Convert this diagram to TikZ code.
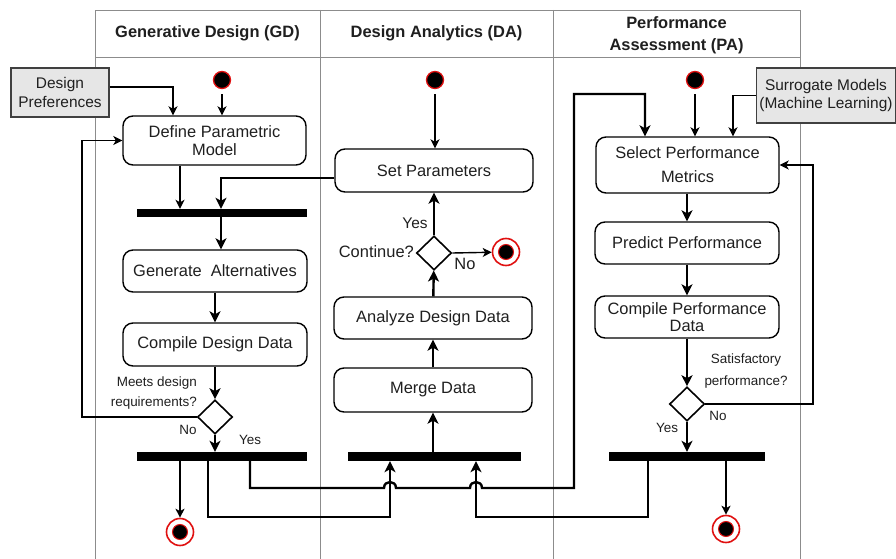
\documentclass[tikz,border=0pt]{standalone}
\usepackage{fontspec}
\setmainfont{Liberation Sans}
\usetikzlibrary{shapes.geometric,arrows.meta}
\definecolor{lanegray}{HTML}{8C8C8C}
\definecolor{notegray}{HTML}{E6E6E6}
\definecolor{startred}{HTML}{E01010}
\begin{document}
\begin{tikzpicture}[x=1bp,y=-1bp,
  every node/.style={font=\fontsize{16.5}{18}\selectfont, text=black!88},
  act/.style={draw=black, line width=1.4bp, rounded corners=10bp, inner sep=0pt, align=center},
  note/.style={draw=black!75, fill=notegray, line width=1.4bp, inner sep=0pt, align=center, font=\fontsize{15.5}{19}\selectfont},
  bar/.style={fill=black, draw=none, inner sep=0pt},
  dec/.style={draw=black, line width=1.6bp, diamond, inner sep=0pt, minimum width=35bp, minimum height=34bp, fill=white},
  startdot/.style={circle, fill=black, draw=startred, line width=1.3bp, minimum size=17bp, inner sep=0pt},
  endring/.style={circle, draw=startred, line width=1.6bp, fill=white, minimum size=27bp, inner sep=0pt},
  thinarr/.style={line width=1.4bp, -{Stealth[length=9bp,width=9bp,inset=2.5bp]}},
  thickarr/.style={line width=2.4bp, -{Stealth[length=11bp,width=11bp,inset=3bp]}},
  lbl/.style={font=\fontsize{13.5}{20}\selectfont, inner sep=0pt},
  lane/.style={draw=lanegray, line width=0.9bp},
  hdr/.style={font=\bfseries\fontsize{16.5}{22}\selectfont, align=center, inner sep=0pt},
]
\useasboundingbox (0,0) rectangle (896,559);
% swimlanes
\draw[lane] (95,559) -- (95,10) -- (800,10) -- (800,559);
\draw[lane] (95,57) -- (800,57);
\draw[lane] (320,10) -- (320,559);
\draw[lane] (553,10) -- (553,559);
\node[hdr] (hGD) at (207.5,33) {Generative Design (GD)};
\node[hdr] (hDA) at (436.5,33) {Design Analytics (DA)};
\node[hdr] (hPA) at (676.5,35) {Performance\\Assessment (PA)};

% column / row helper coordinates
\coordinate (xA) at (180,0);
\coordinate (xB) at (221,0);
\coordinate (xC) at (208,0);
\coordinate (xD) at (250,0);
\coordinate (xE) at (390,0);
\coordinate (xF) at (476,0);
\coordinate (xG) at (574,0);
\coordinate (xH) at (645,0);
\coordinate (xI) at (648,0);
\coordinate (xK) at (733,0);
\coordinate (xL) at (173,0);
\coordinate (xM) at (82,0);
\coordinate (xN) at (813,0);
\coordinate (yR1) at (0,517);
\coordinate (yR2) at (0,488);
\coordinate (yTop) at (0,94);
\coordinate (yPref) at (0,87);
\coordinate (yS) at (0,178);
\coordinate (h1a) at (384,488);
\coordinate (h1b) at (396,488);
\coordinate (h2a) at (470,488);
\coordinate (h2b) at (482,488);

% GD lane
\node[note, minimum width=98bp, minimum height=49bp] (pref) at (60,92.5) {Design\\Preferences};
\node[startdot] (sGD) at (222,80) {};
\node[act, minimum width=183bp, minimum height=49bp] (define) at (214.5,140.5) {Define Parametric\\Model};
\node[bar, minimum width=170bp, minimum height=8bp] (bar1) at (222,213) {};
\node[act, minimum width=184bp, minimum height=42bp] (gen) at (215,271) {Generate\ \ Alternatives};
\node[act, minimum width=184bp, minimum height=43bp] (compD) at (215,344.5) {Compile Design Data};
\node[dec] (dGD) at (215,417) {};
\node[lbl, anchor=east, align=right] (qGD) at (197,393) {Meets design\\requirements?};
\node[lbl] (noGD) at (188,430) {No};
\node[lbl] (yesGD) at (250,440) {Yes};
\node[bar, minimum width=170bp, minimum height=9bp] (bar2) at (222,456.5) {};
\node[endring] (endGD) at (180,532) {};
\node[startdot, minimum size=15bp, line width=1bp] (endGDc) at (endGD) {};

% DA lane
\node[startdot] (sDA) at (435,80) {};
\node[act, minimum width=198bp, minimum height=43bp] (setp) at (434,170.5) {Set Parameters};
\node[dec] (dDA) at (434,253) {};
\node[inner sep=0pt, anchor=east] (qDA) at (414,252) {Continue?};
\node[inner sep=0pt, font=\fontsize{15.5}{18}\selectfont] (yesDA) at (415,223) {Yes};
\node[inner sep=0pt] (noDA) at (465,264) {No};
\node[endring] (endDA) at (506,252) {};
\node[startdot, minimum size=15bp, line width=1bp] (endDAc) at (endDA) {};
\node[act, minimum width=198bp, minimum height=42bp] (analyze) at (433,318) {Analyze Design Data};
\node[act, minimum width=198bp, minimum height=44bp] (merge) at (433,390) {Merge Data};
\node[bar, minimum width=173bp, minimum height=9bp] (bar3) at (434.5,456.5) {};

% PA lane
\node[startdot] (sPA) at (695,80) {};
\node[note, minimum width=139bp, minimum height=55bp, font=\fontsize{15.5}{18}\selectfont] (sur) at (826,95.5) {Surrogate Models\\(Machine Learning)};
\node[act, minimum width=183bp, minimum height=56bp, font=\fontsize{16.5}{24}\selectfont] (select) at (687.5,165) {Select Performance\\Metrics};
\node[act, minimum width=184bp, minimum height=42bp] (predict) at (687,243) {Predict Performance};
\node[act, minimum width=184bp, minimum height=42bp, font=\fontsize{16.5}{17}\selectfont] (compP) at (687,317) {Compile Performance\\Data};
\node[dec] (dPA) at (687,404) {};
\node[lbl, align=center, font=\fontsize{13.5}{22}\selectfont] (qPA) at (746,371) {Satisfactory\\performance?};
\node[lbl] (noPA) at (718,416) {No};
\node[lbl] (yesPA) at (667,428) {Yes};
\node[bar, minimum width=156bp, minimum height=9bp] (bar4) at (687,456.5) {};
\node[endring] (endPA) at (726,529) {};
\node[startdot, minimum size=15bp, line width=1bp] (endPAc) at (endPA) {};

% GD connectors
\draw[thinarr, shorten <=5bp] (sGD) -- (define.north -| sGD);
\draw[thinarr] (pref.east |- yPref) -| (define.north -| xL);
\draw[thinarr] (define.south -| xA) -- (bar1.north -| xA);
\draw[thickarr] (setp.west |- yS) -| (bar1.north -| xB);
\draw[thickarr] (bar1.south -| xB) -- (gen.north -| xB);
\draw[thickarr] (gen) -- (compD);
\draw[thickarr] (compD) -- (dGD);
\draw[thinarr] (dGD.west) -| (define.west -| xM) -- (define.west);
\draw[thickarr] (dGD.south) -- (bar2.north -| dGD);
\draw[thinarr] (bar2.south -| endGD) -- (endGD.north);
\draw[thickarr] (bar2.south -| xC) -- (xC |- yR1) -- (xE |- yR1) -- (bar3.south -| xE);
\draw[thickarr] (bar2.south -| xD) -- (xD |- yR2) -- (h1a) .. controls (384,480) and (396,480) .. (h1b)
  -- (h2a) .. controls (470,480) and (482,480) .. (h2b)
  -- (xG |- yR2) -- (xG |- yTop) -- (xH |- yTop) -- (select.north -| xH);

% DA connectors
\draw[thinarr, shorten <=5bp] (sDA) -- (setp.north -| sDA);
\draw[thickarr] (merge.south |- bar3.north) -- (merge.south);
\draw[thickarr] (merge) -- (analyze);
\draw[thickarr] (analyze) -- (dDA);
\draw[thickarr] (dDA) -- (setp.south -| dDA);
\draw[thinarr] (dDA.east) -- (endDA);

% PA connectors
\draw[thickarr] (bar4.south -| xI) -- (xI |- yR1) -- (xF |- yR1) -- (bar3.south -| xF);
\draw[thinarr, shorten <=5bp] (sPA) -- (select.north -| sPA);
\draw[thinarr] (sur.west) -| (select.north -| xK);
\draw[thickarr] (select.south -| predict) -- (predict.north);
\draw[thickarr] (predict) -- (compP);
\draw[thickarr] (compP) -- (dPA);
\draw[thinarr] (dPA.east) -| (select.east -| xN) -- (select.east);
\draw[thickarr] (dPA.south) -- (bar4.north -| dPA);
\draw[thinarr] (bar4.south -| endPA) -- (endPA.north);
\end{tikzpicture}
\end{document}
